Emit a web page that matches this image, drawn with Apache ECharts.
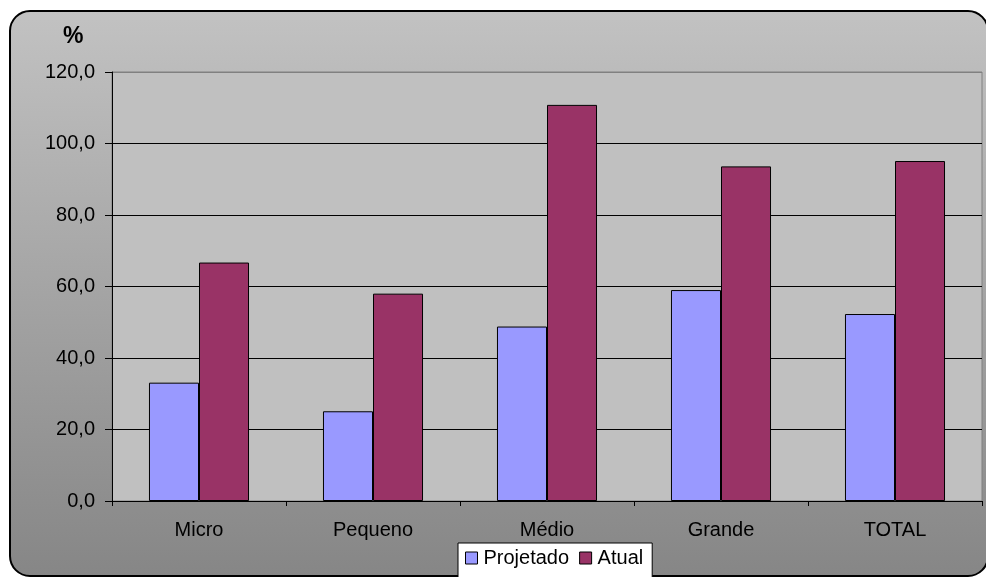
<!DOCTYPE html>
<html>
<head>
<meta charset="utf-8">
<title>Projetado x Atual</title>
<script src="https://cdn.jsdelivr.net/npm/echarts@6/dist/echarts.min.js"></script>
<style>
  html, body { margin: 0; padding: 0; background: #ffffff; }
  #chart { width: 986px; height: 577px; }
</style>
</head>
<body>
<div id="chart"></div>
<script>
// Categories and values (%)
const categories = ['Micro', 'Pequeno', 'Médio', 'Grande', 'TOTAL'];
const projetado = [33.1, 25.1, 48.8, 59.0, 52.3];
const atual = [66.7, 58.0, 110.8, 93.6, 95.1];
const seriesNames = ['Projetado', 'Atual'];

const FONT = '"Liberation Sans", Arial, sans-serif';

const chart = echarts.init(document.getElementById('chart'), null, { renderer: 'canvas' });

chart.setOption({
  animation: false,
  backgroundColor: '#ffffff',
  textStyle: { fontFamily: FONT },
  graphic: [
    {
      // rounded chart frame with vertical grey gradient
      type: 'rect',
      z: -10,
      shape: { x: 10, y: 11, width: 978, height: 565, r: 20 },
      style: {
        fill: new echarts.graphic.LinearGradient(0, 0, 0, 1, [
          { offset: 0, color: '#c2c2c2' },
          { offset: 1, color: '#868686' }
        ]),
        stroke: '#000000',
        lineWidth: 2
      }
    },
    {
      type: 'text',
      left: 63,
      top: 25,
      style: { text: '%', font: 'bold 23px ' + FONT, fill: '#000000' }
    }
  ],
  grid: {
    left: 112, top: 72, width: 870, height: 429,
    show: true,
    backgroundColor: '#c0c0c0',
    borderColor: '#808080',
    borderWidth: 1
  },
  legend: {
    data: seriesNames,
    left: 458,
    top: 543,
    padding: [5, 9, 12, 7],
    itemGap: 10,
    itemWidth: 12,
    itemHeight: 12,
    icon: 'rect',
    backgroundColor: '#ffffff',
    borderColor: '#000000',
    borderWidth: 1,
    textStyle: { fontFamily: FONT, fontSize: 20, color: '#000000', padding: [0, 0, 0, 1] },
    itemStyle: { borderColor: '#000000', borderWidth: 1 }
  },
  xAxis: {
    type: 'category',
    data: categories,
    axisLine: { lineStyle: { color: '#000000', width: 1 } },
    axisTick: { show: true, alignWithLabel: false, length: 5, lineStyle: { color: '#000000' } },
    axisLabel: { fontFamily: FONT, fontSize: 20, color: '#000000', margin: 19 },
    splitLine: { show: false }
  },
  yAxis: {
    type: 'value',
    min: 0,
    max: 120,
    interval: 20,
    axisLine: { show: true, lineStyle: { color: '#000000', width: 1 } },
    axisTick: { show: true, length: 7, lineStyle: { color: '#000000' } },
    axisLabel: {
      fontFamily: FONT, fontSize: 20, color: '#000000', margin: 17,
      formatter: v => v.toFixed(1).replace('.', ',')
    },
    splitLine: {
      show: true,
      lineStyle: { color: ['#000000', '#000000', '#000000', '#000000', '#000000', '#000000', '#808080'], width: 1 }
    }
  },
  series: [
    {
      name: seriesNames[0],
      type: 'bar',
      data: projetado,
      barGap: '0%',
      barCategoryGap: '42.5%',
      itemStyle: { color: '#9999ff', borderColor: '#000000', borderWidth: 1 }
    },
    {
      name: seriesNames[1],
      type: 'bar',
      data: atual,
      barGap: '0%',
      barCategoryGap: '42.5%',
      itemStyle: { color: '#993366', borderColor: '#000000', borderWidth: 1 }
    }
  ]
});
</script>
</body>
</html>
